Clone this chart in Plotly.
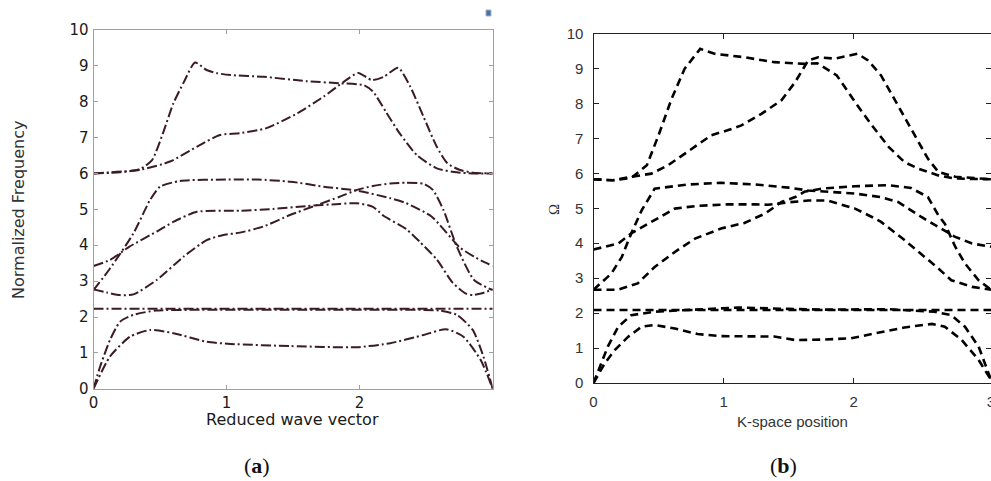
import plotly.graph_objects as go

# ---------------- panel (a) data: reduced wave vector vs normalized frequency
a_A_x = [0, 0.2, 0.35, 0.44, 0.52, 0.6, 0.68, 0.763, 0.85, 0.93, 1.03, 1.28, 1.6, 1.85, 2.03, 2.1, 2.2, 2.3, 2.43, 2.58, 2.73, 2.85, 3.0]
a_A_y = [6.0, 6.03, 6.12, 6.37, 7.1, 7.95, 8.55, 9.09, 8.88, 8.79, 8.74, 8.69, 8.57, 8.51, 8.46, 8.28, 7.7, 7.12, 6.51, 6.14, 6.03, 6.0, 6.0]
a_B_x = [0, 0.35, 0.575, 0.776, 0.95, 1.10, 1.30, 1.53, 1.73, 1.88, 1.99, 2.09, 2.18, 2.29, 2.38, 2.48, 2.58, 2.66, 2.75, 2.85, 3.0]
a_B_y = [6.0, 6.1, 6.33, 6.74, 7.07, 7.12, 7.26, 7.67, 8.14, 8.55, 8.80, 8.60, 8.69, 8.94, 8.42, 7.58, 6.74, 6.28, 6.1, 6.02, 6.0]
a_C_x = [0, 0.124, 0.30, 0.425, 0.5, 0.65, 1.0, 1.23, 1.48, 1.73, 1.98, 2.23, 2.35, 2.54, 2.755, 2.86, 2.93, 3.0]
a_C_y = [2.75, 3.35, 4.33, 5.26, 5.63, 5.79, 5.83, 5.83, 5.77, 5.63, 5.52, 5.31, 5.17, 4.8, 3.93, 3.68, 3.54, 3.42]
a_D_x = [0, 0.124, 0.27, 0.475, 0.6, 0.776, 1.1, 1.35, 1.6, 1.85, 1.98, 2.1, 2.18, 2.35, 2.45, 2.58, 2.7, 2.8, 2.85, 2.92, 3.0]
a_D_y = [3.42, 3.59, 3.96, 4.38, 4.65, 4.93, 4.96, 5.01, 5.09, 5.15, 5.17, 5.07, 4.82, 4.45, 4.1, 3.6, 2.95, 2.65, 2.61, 2.66, 2.77]
a_E_x = [0, 0.1, 0.2, 0.3, 0.475, 0.676, 0.85, 0.97, 1.10, 1.277, 1.476, 1.68, 1.85, 1.98, 2.1, 2.23, 2.35, 2.48, 2.55, 2.63, 2.73, 2.86, 3.0]
a_E_y = [2.77, 2.68, 2.61, 2.63, 3.03, 3.68, 4.14, 4.28, 4.35, 4.52, 4.84, 5.12, 5.35, 5.54, 5.65, 5.72, 5.74, 5.71, 5.54, 4.98, 3.96, 3.03, 2.75]
a_F_x = [0, 3.0]
a_F_y = [2.23, 2.23]
a_G_x = [0, 0.05, 0.124, 0.2, 0.3, 0.47, 0.8, 1.5, 2.2, 2.6, 2.73, 2.85, 2.93, 3.0]
a_G_y = [0, 0.62, 1.36, 1.87, 2.06, 2.18, 2.2, 2.2, 2.2, 2.18, 2.06, 1.64, 0.9, 0.0]
a_H_x = [0, 0.124, 0.274, 0.425, 0.6, 0.85, 1.03, 1.48, 1.98, 2.23, 2.48, 2.65, 2.78, 2.91, 3.0]
a_H_y = [0, 0.9, 1.45, 1.64, 1.55, 1.31, 1.25, 1.19, 1.16, 1.27, 1.5, 1.66, 1.45, 0.8, 0]

# ---------------- panel (b) data: K-space position vs Omega
b_P_x = [0, 0.15, 0.29, 0.41, 0.5, 0.6, 0.70, 0.82, 0.93, 1.16, 1.39, 1.62, 1.72, 1.87, 2.01, 2.14, 2.27, 2.39, 2.50, 2.65, 2.78, 3.055]
b_P_y = [5.83, 5.8, 5.87, 6.23, 7.09, 8.13, 8.99, 9.56, 9.42, 9.32, 9.18, 9.13, 9.15, 8.8, 8.04, 7.37, 6.75, 6.32, 6.13, 5.94, 5.85, 5.83]
b_Q_x = [0, 0.15, 0.29, 0.445, 0.573, 0.80, 0.906, 1.03, 1.137, 1.29, 1.445, 1.55, 1.65, 1.727, 1.855, 2.03, 2.11, 2.21, 2.34, 2.47, 2.57, 2.65, 2.78, 3.055]
b_Q_y = [5.83, 5.8, 5.9, 5.99, 6.23, 6.8, 7.09, 7.23, 7.37, 7.7, 8.09, 8.61, 9.23, 9.32, 9.28, 9.42, 9.23, 8.8, 7.94, 7.09, 6.42, 6.04, 5.9, 5.83]
b_R_x = [0, 0.137, 0.218, 0.29, 0.37, 0.47, 0.73, 0.98, 1.24, 1.50, 1.65, 1.80, 2.01, 2.21, 2.34, 2.52, 2.65, 2.78, 2.91, 3.055]
b_R_y = [2.67, 3.13, 3.61, 4.28, 4.94, 5.56, 5.68, 5.73, 5.68, 5.59, 5.51, 5.47, 5.42, 5.32, 5.18, 4.75, 4.47, 4.18, 3.99, 3.9]
b_S_x = [0, 0.19, 0.29, 0.42, 0.625, 0.80, 1.03, 1.24, 1.34, 1.5, 1.65, 1.8, 2.01, 2.14, 2.21, 2.39, 2.65, 2.75, 2.91, 3.055]
b_S_y = [3.82, 3.99, 4.28, 4.56, 4.99, 5.07, 5.11, 5.11, 5.1, 5.17, 5.22, 5.22, 4.99, 4.75, 4.61, 4.09, 3.28, 2.94, 2.75, 2.67]
b_T_x = [0, 0.19, 0.34, 0.47, 0.625, 0.78, 0.98, 1.16, 1.32, 1.445, 1.55, 1.62, 1.75, 2.01, 2.27, 2.44, 2.57, 2.65, 2.70, 2.78, 2.855, 2.96, 3.055]
b_T_y = [2.67, 2.67, 2.85, 3.32, 3.75, 4.13, 4.42, 4.58, 4.85, 5.18, 5.32, 5.47, 5.56, 5.63, 5.66, 5.58, 5.32, 4.8, 4.56, 3.9, 3.42, 2.94, 2.67]
b_U_x = [0, 3.055]
b_U_y = [2.09, 2.09]
b_V_x = [0, 0.11, 0.19, 0.29, 0.47, 0.78, 1.11, 1.5, 1.75, 2.27, 2.62, 2.75, 2.855, 2.96, 3.055]
b_V_y = [0.0, 1.04, 1.61, 1.94, 2.04, 2.1, 2.16, 2.12, 2.1, 2.11, 2.04, 1.94, 1.61, 1.04, 0.09]
b_W_x = [0, 0.086, 0.163, 0.265, 0.37, 0.47, 0.625, 0.80, 0.98, 1.24, 1.39, 1.55, 1.75, 1.98, 2.14, 2.39, 2.60, 2.70, 2.83, 2.96, 3.055]
b_W_y = [0.0, 0.56, 0.94, 1.32, 1.61, 1.66, 1.56, 1.40, 1.34, 1.34, 1.33, 1.23, 1.24, 1.28, 1.40, 1.59, 1.69, 1.61, 1.23, 0.66, 0.09]

a_ticks_x = [0, 1, 2]
a_ticks_y = list(range(0, 11))
b_tickvals_x = [0, 1, 2, 3.055]
b_ticktext_x = ["0", "1", "2", "3"]
b_ticks_y = list(range(0, 11))

W, H = 991, 481
fig = go.Figure()

a_curves = [(a_A_x, a_A_y), (a_B_x, a_B_y), (a_C_x, a_C_y), (a_D_x, a_D_y), (a_E_x, a_E_y),
            (a_F_x, a_F_y), (a_G_x, a_G_y), (a_H_x, a_H_y)]
for xs, ys in a_curves:
    fig.add_trace(go.Scatter(x=xs, y=ys, mode="lines", xaxis="x", yaxis="y", showlegend=False,
                             line=dict(color="#3b1c24", width=2, dash="10px,3px,2px,3px",
                                       shape="spline", smoothing=0.6), hoverinfo="skip"))

b_curves = [(b_P_x, b_P_y), (b_Q_x, b_Q_y), (b_R_x, b_R_y), (b_S_x, b_S_y), (b_T_x, b_T_y),
            (b_U_x, b_U_y), (b_V_x, b_V_y), (b_W_x, b_W_y)]
for xs, ys in b_curves:
    fig.add_trace(go.Scatter(x=xs, y=ys, mode="lines", xaxis="x2", yaxis="y2", showlegend=False,
                             line=dict(color="black", width=2.6, dash="8px,5px"), hoverinfo="skip"))

a_font = dict(family="DejaVu Sans", size=15, color="#1a1a1a")
b_font = dict(family="Liberation Sans, Arial", size=15, color="#333333")

common = dict(showgrid=False, zeroline=False, showline=True, mirror="ticks", ticks="inside",
              automargin=False, ticklabeloverflow="allow")

fig.update_layout(
    width=W, height=H, margin=dict(l=0, r=0, t=0, b=0, autoexpand=False),
    paper_bgcolor="white", plot_bgcolor="white",
    xaxis=dict(domain=[93.5 / W, 492.7 / W], range=[0, 3], tickvals=a_ticks_x,
               linecolor="#a0a0a0", linewidth=1, ticklen=4, tickcolor="#a0a0a0",
               tickfont=a_font, ticklabelstandoff=0, anchor="y", **common),
    yaxis=dict(domain=[(H - 388.8) / H, (H - 29.8) / H], range=[0, 10], tickvals=a_ticks_y,
               linecolor="#a0a0a0", linewidth=1, ticklen=4, tickcolor="#a0a0a0",
               tickfont=a_font, ticklabelstandoff=1, anchor="x", **common),
    xaxis2=dict(domain=[593.5 / W, 1.0], range=[0, 3.055], tickvals=b_tickvals_x, ticktext=b_ticktext_x,
                linecolor="#222222", linewidth=1.2, ticklen=5, tickcolor="#222222",
                tickfont=b_font, ticklabelstandoff=5, anchor="y2", **common),
    yaxis2=dict(domain=[(H - 383) / H, (H - 33.5) / H], range=[0, 10], tickvals=b_ticks_y,
                linecolor="#222222", linewidth=1.2, ticklen=5, tickcolor="#222222",
                tickfont=b_font, ticklabelstandoff=6, anchor="x2", **common),
)

ann = [
    dict(text="Normalized Frequency", x=18 / W, y=(H - 210) / H, textangle=-90,
         font=dict(family="DejaVu Sans", size=16, color="#333333")),
    dict(text="Reduced wave vector", x=292 / W, y=(H - 419) / H,
         font=dict(family="DejaVu Sans", size=16, color="#1a1a1a")),
    dict(text="K-space position", x=792 / W, y=(H - 421) / H,
         font=dict(family="Liberation Sans, Arial", size=15, color="#333333")),
    dict(text="Ω", x=554 / W, y=(H - 210) / H, textangle=-90,
         font=dict(family="Liberation Serif", size=15, color="#333333")),
    dict(text="(<b>a</b>)", x=257 / W, y=(H - 465) / H,
         font=dict(family="Liberation Serif", size=22, color="#111111")),
    dict(text="(<b>b</b>)", x=783 / W, y=(H - 465) / H,
         font=dict(family="Liberation Serif", size=22, color="#111111")),
]
for a in ann:
    fig.add_annotation(xref="paper", yref="paper", showarrow=False, xanchor="center", yanchor="middle", **a)

# tiny icon at the top-right of panel (a)
fig.add_shape(type="rect", xref="paper", yref="paper",
              x0=486 / W, x1=491 / W, y0=(H - 16) / H, y1=(H - 10) / H,
              fillcolor="#4d6e9c", line=dict(color="#9fb4d0", width=1))

fig.write_html("out.html")
